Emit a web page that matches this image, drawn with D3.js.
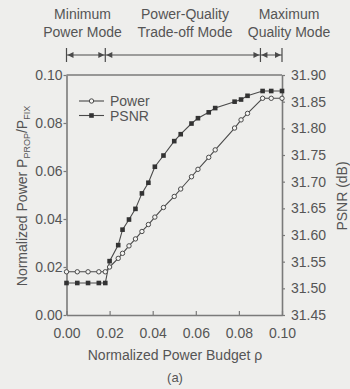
<!DOCTYPE html>
<html><head><meta charset="utf-8">
<script src="https://cdn.jsdelivr.net/npm/d3@7"></script>
<style>
html,body{margin:0;padding:0;background:#eeeeec;}
svg{display:block;font-family:"Liberation Sans",Arial,sans-serif;}
</style></head>
<body><svg id="c" width="350" height="389"></svg>
<script>
const rho = [0, 0.005, 0.01, 0.015, 0.018, 0.02, 0.024, 0.026, 0.029, 0.032, 0.035, 0.038, 0.041, 0.045, 0.050, 0.053, 0.058, 0.061, 0.066, 0.069, 0.078, 0.081, 0.084, 0.091, 0.095, 0.100];
const power = [0.018, 0.018, 0.018, 0.018, 0.018, 0.020, 0.0236, 0.0257, 0.0288, 0.0317, 0.0348, 0.0377, 0.0408, 0.0448, 0.0494, 0.0525, 0.0576, 0.0607, 0.0657, 0.0688, 0.0779, 0.0813, 0.0840, 0.0903, 0.0903, 0.0903];
const psnr = [31.51, 31.51, 31.51, 31.51, 31.51, 31.551, 31.581, 31.610, 31.629, 31.649, 31.678, 31.698, 31.728, 31.749, 31.776, 31.789, 31.809, 31.819, 31.830, 31.838, 31.850, 31.854, 31.861, 31.870, 31.870, 31.870];
const xTicks = [0, 0.02, 0.04, 0.06, 0.08, 0.10];
const yLeftTicks = [0, 0.02, 0.04, 0.06, 0.08, 0.10];
const yRightTicks = [31.45, 31.50, 31.55, 31.60, 31.65, 31.70, 31.75, 31.80, 31.85, 31.90];
const modes = [
  {lines: ["Minimum", "Power Mode"], from: 0, to: 0.018},
  {lines: ["Power-Quality", "Trade-off Mode"], from: 0.018, to: 0.09},
  {lines: ["Maximum", "Quality Mode"], from: 0.09, to: 0.10}
];
const legendItems = [{name: "Power", filled: false}, {name: "PSNR", filled: true}];

const svg = d3.select("#c");
const axisCol = "#7a7a7a", textCol = "#555", lineCol = "#4a4a4a";
const L = 66.5, R = 282, T = 75, B = 315;
const x = d3.scaleLinear().domain([0, 0.10]).range([L, R]);
const yL = d3.scaleLinear().domain([0, 0.10]).range([B, T]);
const yR = d3.scaleLinear().domain([31.45, 31.90]).range([B, T]);

function styleAxis(g){
  g.select(".domain").attr("stroke", axisCol).attr("stroke-width", 1.6);
  g.selectAll(".tick line").attr("stroke", axisCol).attr("stroke-width", 1.2);
  g.selectAll(".tick text").attr("fill", textCol).attr("font-size", 14).attr("font-family", "Liberation Sans, Arial, sans-serif");
}
svg.append("line").attr("x1", L).attr("x2", R).attr("y1", T).attr("y2", T).attr("stroke", axisCol).attr("stroke-width", 1.6);

const gx = svg.append("g").attr("transform", `translate(0,${B})`)
  .call(d3.axisBottom(x).tickValues(xTicks).tickFormat(d3.format(".2f")).tickSizeInner(-4).tickSizeOuter(0).tickPadding(13));
styleAxis(gx);
const gl = svg.append("g").attr("transform", `translate(${L},0)`)
  .call(d3.axisLeft(yL).tickValues(yLeftTicks).tickFormat(d3.format(".2f")).tickSizeInner(3).tickSizeOuter(0).tickPadding(1));
styleAxis(gl);
const gr = svg.append("g").attr("transform", `translate(${R},0)`)
  .call(d3.axisRight(yR).tickValues(yRightTicks).tickFormat(d3.format(".2f")).tickSizeInner(3).tickSizeOuter(0).tickPadding(6));
styleAxis(gr);

const data = rho.map((r, i) => ({r, p: power[i], s: psnr[i]}));
svg.append("path").datum(data).attr("fill", "none").attr("stroke", lineCol).attr("stroke-width", 1.1)
  .attr("d", d3.line().x(d => x(d.r)).y(d => yL(d.p)));
svg.append("path").datum(data).attr("fill", "none").attr("stroke", lineCol).attr("stroke-width", 1.1)
  .attr("d", d3.line().x(d => x(d.r)).y(d => yR(d.s)));
svg.selectAll(".mp").data(data).enter().append("circle")
  .attr("cx", d => x(d.r)).attr("cy", d => yL(d.p)).attr("r", 2.2)
  .attr("fill", "#f4f4f2").attr("stroke", lineCol).attr("stroke-width", 1);
svg.selectAll(".ms").data(data).enter().append("rect")
  .attr("x", d => x(d.r) - 2.3).attr("y", d => yR(d.s) - 2.3).attr("width", 4.6).attr("height", 4.6)
  .attr("fill", "#333");

legendItems.forEach((it, i) => {
  const cy = 101 + i * 14.5;
  svg.append("line").attr("x1", 79).attr("x2", 104).attr("y1", cy).attr("y2", cy).attr("stroke", lineCol).attr("stroke-width", 1.1);
  if (it.filled) svg.append("rect").attr("x", 91.5 - 2.3).attr("y", cy - 2.3).attr("width", 4.6).attr("height", 4.6).attr("fill", "#333");
  else svg.append("circle").attr("cx", 91.5).attr("cy", cy).attr("r", 2.2).attr("fill", "#f4f4f2").attr("stroke", lineCol);
  svg.append("text").attr("x", 110).attr("y", cy + 5).attr("font-size", 14).attr("fill", textCol).text(it.name);
});

svg.append("text").attr("x", 175).attr("y", 360).attr("text-anchor", "middle").attr("font-size", 14).attr("fill", textCol)
  .text("Normalized Power Budget ρ");
svg.append("text").attr("x", 175).attr("y", 382).attr("text-anchor", "middle").attr("font-size", 13).attr("fill", textCol).text("(a)");
const lt = svg.append("text").attr("transform", "translate(27,196) rotate(-90)").attr("text-anchor", "middle")
  .attr("font-size", 14).attr("fill", textCol);
lt.append("tspan").text("Normalized Power P");
lt.append("tspan").attr("font-size", 9).attr("dy", 3).text("PROP");
lt.append("tspan").attr("dy", -3).text("/P");
lt.append("tspan").attr("font-size", 9).attr("dy", 3).text("FIX");
svg.append("text").attr("transform", "translate(347,196) rotate(-90)").attr("text-anchor", "middle")
  .attr("font-size", 14).attr("fill", textCol).text("PSNR (dB)");

const ay = 55;
const centers = [82.5, 185, 289];
modes.forEach((m, k) => {
  m.lines.forEach((t, j) => {
    svg.append("text").attr("x", centers[k]).attr("y", 19 + j * 18).attr("text-anchor", "middle")
      .attr("font-size", 14).attr("fill", textCol).text(t);
  });
  const a = x(m.from), b = x(m.to);
  svg.append("line").attr("x1", a).attr("x2", b).attr("y1", ay).attr("y2", ay).attr("stroke", lineCol).attr("stroke-width", 1);
  svg.append("path").attr("d", `M${a + 1},${ay} l6,-3 v6 z`).attr("fill", lineCol);
  svg.append("path").attr("d", `M${b - 1},${ay} l-6,-3 v6 z`).attr("fill", lineCol);
});
[0, 0.018, 0.09, 0.10].forEach(v => {
  svg.append("line").attr("x1", x(v)).attr("x2", x(v)).attr("y1", 48).attr("y2", 62).attr("stroke", lineCol).attr("stroke-width", 1.2);
});
</script></body></html>
